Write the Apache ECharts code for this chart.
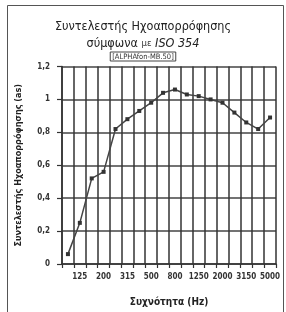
<!DOCTYPE html>
<html>
<head>
<meta charset="utf-8">
<script src="https://cdn.jsdelivr.net/npm/echarts@6/dist/echarts.min.js"></script>
<style>
  html, body { margin: 0; padding: 0; background: #fff; }
  #chart { width: 286px; height: 312px; }
</style>
</head>
<body>
<div id="chart"></div>
<script>
// συχνότητες 1/3 οκτάβας (Hz)
var frequencies = ["100", "125", "160", "200", "250", "315", "400", "500", "630",
  "800", "1000", "1250", "1600", "2000", "2500", "3150", "4000", "5000"];
// συντελεστής ηχοαπορρόφησης as
var alphaS = [0.06, 0.25, 0.52, 0.56, 0.82, 0.88, 0.93, 0.98, 1.04,
  1.06, 1.03, 1.02, 1.0, 0.98, 0.92, 0.86, 0.82, 0.89];

var myChart = echarts.init(document.getElementById("chart"));
var font = "'Liberation Sans Narrow', 'DejaVu Sans Condensed', 'Noto Sans', sans-serif";

var option = {
  backgroundColor: "#fff",
  animation: false,
  graphic: [
    {
      type: "rect",
      shape: { x: 7.5, y: 5.5, width: 276, height: 320 },
      style: { fill: "none", stroke: "#555", lineWidth: 1 }
    }
  ],
  title: {
    left: "center",
    top: 14,
    // αριστερό padding για να κεντραριστεί πάνω από το διάγραμμα
    padding: [5, 0, 0, 36],
    text: "{t|Συντελεστής Ηχοαπορρόφησης}\n{a|σύμφωνα} {s|με} {b|ISO 354}\n{c|[ALPHAfon-MB.50]}",
    textStyle: {
      fontFamily: font,
      fontSize: 12.5,
      fontWeight: "normal",
      color: "#222",
      rich: {
        t: { fontFamily: font, fontSize: 12.5, color: "#222", lineHeight: 16 },
        a: { fontFamily: font, fontSize: 12.5, color: "#222", lineHeight: 17 },
        s: { fontFamily: font, fontSize: 9.5, color: "#333", lineHeight: 17 },
        b: { fontFamily: font, fontSize: 12.5, fontStyle: "italic", color: "#222", lineHeight: 17 },
        c: {
          fontFamily: "'DejaVu Sans Condensed', 'DejaVu Sans', sans-serif",
          fontSize: 7.5, color: "#333", lineHeight: 9,
          borderColor: "#444", borderWidth: 1, padding: [1, 2, 0, 2]
        }
      }
    }
  },
  grid: { left: 62, right: 10, top: 66.5, bottom: 47 },
  xAxis: {
    type: "category",
    data: frequencies,
    boundaryGap: true,
    name: "Συχνότητα (Hz)",
    nameLocation: "middle",
    nameGap: 33,
    nameTextStyle: { fontFamily: font, fontSize: 10, fontWeight: "bold", color: "#222" },
    axisLine: { lineStyle: { color: "#333", width: 1.5 } },
    axisTick: { show: true, interval: 0, length: 4, lineStyle: { color: "#333", width: 1.2 } },
    axisLabel: {
      interval: function (i) { return i % 2 === 1; },
      fontFamily: font, fontSize: 8, fontWeight: "bold", color: "#333", margin: 9
    },
    splitLine: { show: true, interval: 0, lineStyle: { color: "#333", width: 1.5 } }
  },
  yAxis: {
    type: "value",
    min: 0,
    max: 1.2,
    interval: 0.2,
    name: "Συντελεστής Ηχοαπορρόφησης (as)",
    nameLocation: "middle",
    nameGap: 39,
    nameTextStyle: { fontFamily: font, fontSize: 9, fontWeight: "bold", color: "#222" },
    axisLine: { show: true, lineStyle: { color: "#333", width: 1.5 } },
    axisTick: { show: true, length: 5, lineStyle: { color: "#333", width: 1.2 } },
    axisLabel: {
      fontFamily: font, fontSize: 8, fontWeight: "bold", color: "#333", margin: 12,
      formatter: function (v) { return String(+v.toFixed(1)).replace(".", ","); }
    },
    splitLine: { show: true, lineStyle: { color: "#444", width: 1.5 } }
  },
  series: [
    {
      type: "line",
      data: alphaS,
      symbol: "rect",
      symbolSize: 4,
      itemStyle: { color: "#333" },
      lineStyle: { color: "#444", width: 1.5 }
    }
  ]
};
myChart.setOption(option);
</script>
</body>
</html>
